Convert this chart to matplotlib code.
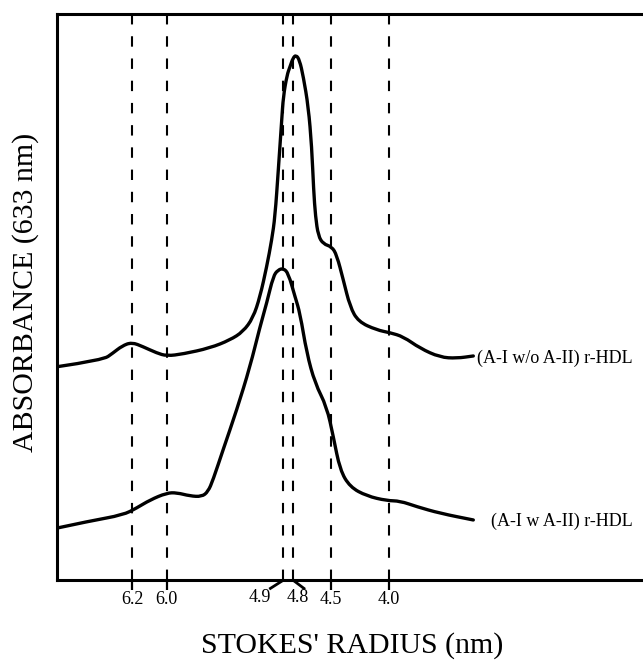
import matplotlib
matplotlib.use("Agg")
import matplotlib.pyplot as plt
from matplotlib.path import Path
from matplotlib.patches import PathPatch

plt.rcParams['font.family'] = ['Liberation Serif', 'DejaVu Serif']
plt.rcParams['lines.scale_dashes'] = False

# elution position and absorbance (arbitrary units)
wo_x = [0, 45.6, 55.6, 64.6, 74.3, 85.6, 99.3, 109.3, 125.6, 152.6, 172.6, 185.6, 195.6, 202.6,
        209.3, 214.3, 217.6, 220.9, 224.3, 225.9, 229.6, 232.6, 235.6, 238.6, 242.1, 245.9,
        250.9, 254.3, 256.2, 258.1, 260.9, 265.9, 274.3, 279.3, 285.9, 292.6, 300.9, 319.3,
        332.6, 345.9, 362.6, 382.6, 399.3, 415.9]
wo_y = [213.7, 220.4, 227.4, 234.4, 238.1, 233.7, 227.4, 224.4, 226.4, 232.4, 240.4, 248.7,
        262.4, 283.7, 313.7, 340.4, 363.7, 410.4, 460.4, 483.7, 505.4, 513.7, 522.4, 525.4,
        520.4, 503.7, 473.7, 433.7, 390.4, 363.7, 344.4, 336.4, 333.7, 325.4, 300.4, 273.7,
        258.7, 250.4, 247.7, 243.7, 232.1, 223.1, 222.1, 224.4]

w_x = [0, 32.6, 65.6, 79.3, 92.6, 109.3, 119.3, 132.6, 144.3, 150.6, 155.6, 165.6, 179.3, 192.6,
       202.6, 209.3, 215.9, 220.6, 225.9, 230.9, 237.6, 242.6, 249.3, 257.6, 269.3, 275.9,
       282.6, 292.6, 309.3, 329.3, 342.6, 359.3, 382.6, 415.9]
w_y = [52.4, 59.4, 65.4, 72.4, 80.4, 87.4, 87.7, 84.4, 83.7, 88.7, 100.4, 130.4, 170.4, 213.7,
       253.7, 277.4, 304.4, 310.4, 312.1, 307.1, 283.7, 267.1, 227.4, 197.1, 173.7, 143.7,
       110.4, 93.4, 84.4, 79.7, 79.4, 73.7, 67.1, 60.4]

line_x = [74.6, 109.3, 225.6, 235.9, 273.6, 331.3]
tick_x = [74.6, 109.3, 273.6, 331.3]
tick_labels = ['6.2', '6.0', '4.5', '4.0']
split_labels = ['4.9', '4.8']
split_label_x = [202, 240]


def smooth_path(xs, ys):
    # quadratic bezier through midpoints, data points act as control points
    pts = list(zip(xs, ys))
    verts = [pts[0]]
    codes = [Path.MOVETO]
    for i in range(1, len(pts) - 1):
        mid = ((pts[i][0] + pts[i + 1][0]) / 2, (pts[i][1] + pts[i + 1][1]) / 2)
        verts += [pts[i], mid]
        codes += [Path.CURVE3, Path.CURVE3]
    verts.append(pts[-1])
    codes.append(Path.LINETO)
    return Path(verts, codes)


fig = plt.figure(figsize=(6.43, 6.62), dpi=100)
ax = fig.add_axes([0.0893, 0.1233, 0.92, 0.8557])
ax.set_xlim(0, 0.92 * 643)
ax.set_ylim(0, 0.8557 * 662)

for x in line_x:
    ax.plot([x, x], [0, 0.8557 * 662], color='black', lw=1.5, dashes=(7.5, 8.5), zorder=1)

for xs, ys in [(wo_x, wo_y), (w_x, w_y)]:
    ax.add_patch(PathPatch(smooth_path(xs, ys), fill=False, lw=2.4, ec='black',
                           joinstyle='round', capstyle='round', zorder=2))

ax.text(420, 222, '(A-I w/o A-II) r-HDL', fontsize=13, va='center', ha='left')
ax.text(433.5, 59, '(A-I w A-II) r-HDL', fontsize=13, va='center', ha='left')

for s in ['left', 'bottom', 'top']:
    ax.spines[s].set_linewidth(2.2)
ax.spines['right'].set_visible(False)

ax.set_yticks([])
ax.set_xticks(tick_x)
ax.set_xticklabels(tick_labels, fontsize=13)
ax.tick_params(axis='x', direction='out', length=7, width=1.6, pad=1)

# leader lines for the two close labels
ax.plot([225.6, 213], [0, -8], color='black', lw=2.0, clip_on=False)
ax.plot([235.9, 246.5], [0, -8], color='black', lw=2.0, clip_on=False)
for x, lab in zip(split_label_x, split_labels):
    ax.text(x, -9, lab, fontsize=13, ha='center', va='top')

fig.text(25.6 / 643, 1 - 292.5 / 662, 'ABSORBANCE (633 nm)', rotation=90, fontsize=21.5,
         ha='center', va='center')
fig.text(352 / 643, 1 - 646 / 662, "STOKES' RADIUS (nm)", fontsize=21.5,
         ha='center', va='center')

fig.savefig('out.png', dpi=100)
